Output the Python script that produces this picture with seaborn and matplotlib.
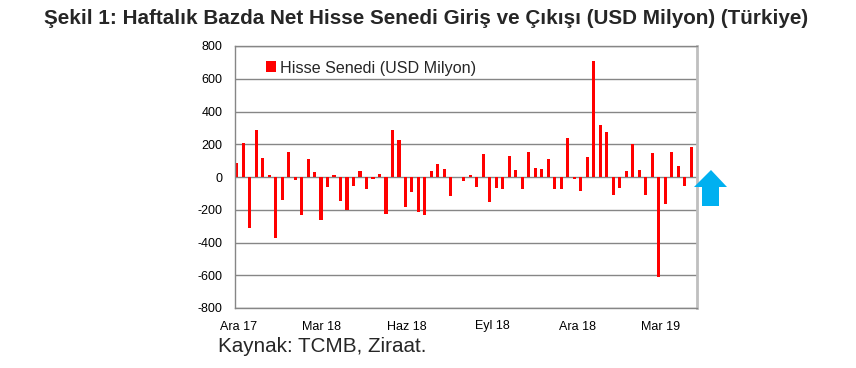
import numpy as np
import pandas as pd
import matplotlib
matplotlib.use("Agg")
import matplotlib.pyplot as plt
import matplotlib.dates as mdates
from matplotlib.patches import Polygon
import seaborn as sns

# ---- data ----
start_date = "2017-11-29"
values = [85, 210, -310, 290, 115, 10, -370, -140, 150, -20, -230, 110, 30, -260, -60, 15, -145, -200,
          -55, 35, -75, -15, 20, -225, 290, 225, -185, -90, -215, -230, 35, 80, 50, -115,
          0,
          -25, 10, -60, 140, -155, -70, -75, 130, 40, -75, 155, 55, 50, 110, -75, -75, 240, -10, -85,
          120, 710, 320, 275, -110, -70, 35, 200, 45, -110, 145, -610, -165, 155, 65, -55, 185]
tick_dates = ["2017-12-01", "2018-03-01", "2018-06-01", "2018-09-01", "2018-12-01", "2019-03-01"]
tick_labels = ["Ara 17", "Mar 18", "Haz 18", "Eyl 18", "Ara 18", "Mar 19"]
series_name = "Hisse Senedi (USD Milyon)"
title = "Şekil 1: Haftalık Bazda Net Hisse Senedi Giriş ve Çıkışı (USD Milyon) (Türkiye)"
source = "Kaynak: TCMB, Ziraat."
y_ticks = [-800, -600, -400, -200, 0, 200, 400, 600, 800]

sns.set_style("white")
plt.rcParams["font.family"] = ["Liberation Sans", "DejaVu Sans"]
plt.rcParams["axes.unicode_minus"] = False

weeks = pd.date_range(start_date, periods=len(values), freq="7D")
df = pd.DataFrame({"x": mdates.date2num(weeks), "v": values})

W, H = 856, 368
fig = plt.figure(figsize=(W / 100, H / 100), dpi=100)
ax = fig.add_axes([235 / W, 1 - 308 / H, (697 - 235) / W, (308 - 46) / H])

sns.barplot(data=df, x="x", y="v", native_scale=True, color="#FF0000", saturation=1,
            width=0.48, ax=ax, label=series_name, edgecolor="none", linewidth=0)

ax.set_xlim(df["x"].iloc[0] - 1.8, df["x"].iloc[-1] + 6.4)
ax.set_ylim(-800, 800)
ax.set_yticks(y_ticks)
ax.set_xticks(mdates.date2num(pd.to_datetime(tick_dates)))
ax.set_xticklabels(tick_labels)
ax.set_xlabel("")
ax.set_ylabel("")
ax.grid(axis="y", color="#868686", linewidth=1)
ax.grid(axis="x", visible=False)
ax.set_axisbelow(True)
for s in ax.spines.values():
    s.set_visible(True)
    s.set_color("#868686")
    s.set_linewidth(1)
ax.spines["right"].set_color("#BFBFBF")
ax.spines["right"].set_linewidth(2)
ax.tick_params(axis="y", length=0, labelsize=9, pad=9, colors="black")
ax.tick_params(axis="x", length=0, labelsize=9, pad=9, colors="black")

ax.legend(loc="center left", bbox_to_anchor=(266 / W, 1 - 68 / H), bbox_transform=fig.transFigure,
          frameon=False, fontsize=11.6, handlelength=0.65, handleheight=0.65, handletextpad=0.25,
          borderpad=0, borderaxespad=0)

fig.text(426.5 / W, 1 - 19 / H, title, ha="center", va="center", fontsize=14.9, fontweight="bold")
fig.text(218 / W, 1 - 346 / H, source, ha="left", va="center", fontsize=14.9)

arrow_px = [(711, 170), (727, 187), (719, 187), (719, 206), (702, 206), (702, 187), (694, 187)]
arrow = Polygon([(x / W, 1 - y / H) for x, y in arrow_px], closed=True, transform=fig.transFigure,
                facecolor="#00B0F0", edgecolor="none")
fig.patches.append(arrow)

fig.savefig("out.png", dpi=100)
